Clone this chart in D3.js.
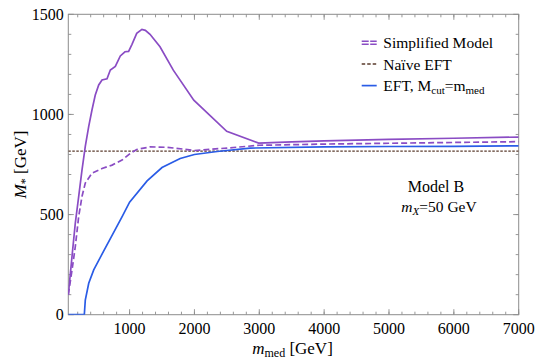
<!DOCTYPE html>
<html>
<head>
<meta charset="utf-8">
<script src="https://cdn.jsdelivr.net/npm/d3@7"></script>
<style>
body{margin:0;background:#fff;}
text{font-family:"Liberation Serif","Times New Roman",serif;fill:#000;}
</style>
</head>
<body>
<div id="chart"></div>
<script>
// values (m_med in GeV, M* in GeV)
var simpMed = [55,112,163,215,266,317,370,420,471,524,575,652,703,780,857,929,985,1037,1110,1190,1243,1315,1469,1674,1990,2498,2990,3500,4000,5000,6000,7000];
var simpVal = [100,290,457,590,722,840,940,1022,1097,1147,1172,1178,1222,1240,1292,1313,1315,1350,1405,1425,1420,1400,1338,1221,1071,916,857,863,868,875,881,887];

var simpNWMed = [55,112,163,215,266,317,420,575,730,883,1011,1110,1315,1572,1828,2000,2500,3000,4000,5000,6000,7000];
var simpNWVal = [100,222,340,490,590,657,707,730,747,772,805,825,838,836,827,820,832,846,852,856,860,864];

var eftMed = [55,302,317,370,447,575,730,883,1000,1270,1500,1780,2000,2350,2860,4000,5000,6000,7000];
var eftVal = [0,0,73,157,224,302,396,488,562,668,735,780,800,815,832,838,840,841,843];

var naiveVal = 817;

var xTicks = [1000,2000,3000,4000,5000,6000,7000];
var yTicks = [0,500,1000,1500];

var W = 537, H = 361;
var margin = {l:68.3, r:18.3, t:14.3, b:46.3};

var svg = d3.select("#chart").append("svg")
	.attr("width",W).attr("height",H);

var X = d3.scaleLinear().domain([55,7000]).range([margin.l, W-margin.r]),
	Y = d3.scaleLinear().domain([0,1500]).range([H-margin.b, margin.t]);

var purple = "#8a4cc4", blue = "#2a5ce6", brown = "#5a3b2c", frameCol = "#8c8c8c";

svg.append("clipPath").attr("id","clip").append("rect")
	.attr("x",margin.l).attr("y",margin.t)
	.attr("width",W-margin.l-margin.r).attr("height",H-margin.t-margin.b);

// frame with inward ticks on all four sides
var xMinor = d3.range(200,7001,200), yMinor = d3.range(100,1500,100);
var frame = svg.append("g");

function ticks(axis, pos, vals, len){
	frame.selectAll(null).data(vals).enter().append("line")
		.attr("x1",function(d){return axis=="x" ? X(d) : pos})
		.attr("x2",function(d){return axis=="x" ? X(d) : pos + len})
		.attr("y1",function(d){return axis=="x" ? pos : Y(d)})
		.attr("y2",function(d){return axis=="x" ? pos + len : Y(d)})
		.style("stroke",frameCol).style("stroke-width",0.9);
}
ticks("x", Y(0), xMinor, -3);
ticks("x", Y(0), xTicks, -5.5);
ticks("x", Y(1500), xMinor, 3);
ticks("x", Y(1500), xTicks, 5.5);
ticks("y", X(55), yMinor, 3);
ticks("y", X(55), yTicks, 5.5);
ticks("y", X(7000), yMinor, -3);
ticks("y", X(7000), yTicks, -5.5);

frame.append("rect")
	.attr("x",X(55)).attr("y",Y(1500))
	.attr("width",X(7000)-X(55)).attr("height",Y(0)-Y(1500))
	.style("fill","none").style("stroke",frameCol).style("stroke-width",1);

svg.selectAll(".xl").data(xTicks).enter().append("text")
	.attr("class","xl")
	.attr("x",function(d){return X(d)}).attr("y",Y(0)+19)
	.attr("text-anchor","middle").style("font-size","16px")
	.text(function(d){return d});

svg.selectAll(".yl").data(yTicks).enter().append("text")
	.attr("class","yl")
	.attr("x",X(55)-4.5).attr("y",function(d){return Y(d)+5.5})
	.attr("text-anchor","end").style("font-size","16px")
	.text(function(d){return d});

// curves
var plot = svg.append("g").attr("clip-path","url(#clip)");
var line = d3.line().x(function(d){return X(d[0])}).y(function(d){return Y(d[1])});

plot.append("line")
	.attr("x1",X(55)).attr("x2",X(7000))
	.attr("y1",Y(naiveVal)).attr("y2",Y(naiveVal))
	.style("stroke",brown).style("stroke-width",1.4).style("stroke-dasharray","2.5,1.5");

plot.append("path").datum(d3.zip(eftMed,eftVal))
	.attr("d",line)
	.style("fill","none").style("stroke",blue).style("stroke-width",1.7);

plot.append("path").datum(d3.zip(simpNWMed,simpNWVal))
	.attr("d",line)
	.style("fill","none").style("stroke",purple).style("stroke-width",1.7)
	.style("stroke-dasharray","6,3");

plot.append("path").datum(d3.zip(simpMed,simpVal))
	.attr("d",line)
	.style("fill","none").style("stroke",purple).style("stroke-width",1.7);

// legend
var lg = svg.append("g");
var lx0 = 361.7, lx1 = 376.7, tx = 383.3;
lg.append("line").attr("x1",lx0).attr("x2",lx1).attr("y1",41.2).attr("y2",41.2)
	.style("stroke",purple).style("stroke-width",1.4).style("stroke-dasharray","7,1.5");
lg.append("line").attr("x1",lx0).attr("x2",lx1).attr("y1",44.2).attr("y2",44.2)
	.style("stroke",purple).style("stroke-width",1.4).style("stroke-dasharray","7,1.5");
lg.append("line").attr("x1",lx0).attr("x2",lx1).attr("y1",64).attr("y2",64)
	.style("stroke",brown).style("stroke-width",1.4).style("stroke-dasharray","3.5,2");
lg.append("line").attr("x1",lx0).attr("x2",lx1).attr("y1",85.6).attr("y2",85.6)
	.style("stroke",blue).style("stroke-width",1.7);

lg.append("text").attr("x",tx).attr("y",48.3).style("font-size","15.5px").text("Simplified Model");
lg.append("text").attr("x",tx).attr("y",69.6).style("font-size","15.5px").text("Naïve EFT");
var t3 = lg.append("text").attr("x",tx).attr("y",91).style("font-size","15.5px");
t3.append("tspan").text("EFT, M");
t3.append("tspan").attr("dy",3).style("font-size","11px").text("cut");
t3.append("tspan").attr("dy",-3).text("=m");
t3.append("tspan").attr("dy",3).style("font-size","11px").text("med");

// annotation
svg.append("text").attr("x",436).attr("y",192)
	.attr("text-anchor","middle").style("font-size","16px").text("Model B");
var ann = svg.append("text").attr("x",439).attr("y",212)
	.attr("text-anchor","middle").style("font-size","15.5px");
ann.append("tspan").style("font-style","italic").text("m");
ann.append("tspan").attr("dy",3).style("font-size","11px").style("font-style","italic").text("X");
ann.append("tspan").attr("dy",-3).text("=50 GeV");

// axis titles
var xt = svg.append("text").attr("x",292.5).attr("y",353.5)
	.attr("text-anchor","middle").style("font-size","17px");
xt.append("tspan").style("font-style","italic").text("m");
xt.append("tspan").attr("dy",3.5).style("font-size","12px").text("med");
xt.append("tspan").attr("dy",-3.5).text(" [GeV]");

var yt = svg.append("text")
	.attr("transform","translate(25.5,"+((margin.t+H-margin.b)/2)+") rotate(-90)")
	.attr("text-anchor","middle").style("font-size","17px");
yt.append("tspan").style("font-style","italic").text("M");
yt.append("tspan").attr("dy",3.5).style("font-size","12px").text("*");
yt.append("tspan").attr("dy",-3.5).text(" [GeV]");
</script>
</body>
</html>
